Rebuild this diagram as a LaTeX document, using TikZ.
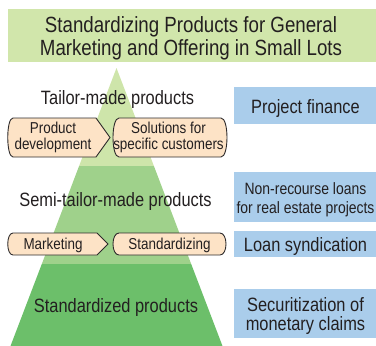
\documentclass[tikz,border=0pt]{standalone}
\usepackage{fontspec}
\setmainfont{Liberation Sans}[FakeStretch=0.85]
\definecolor{titlegreen}{HTML}{D1E6AB}
\definecolor{pyrtop}{HTML}{CEE5AA}
\definecolor{pyrmid}{HTML}{9FD18B}
\definecolor{pyrbot}{HTML}{6CBF6A}
\definecolor{bluebox}{HTML}{AACDEB}
\definecolor{peach}{HTML}{FDE3C6}
\definecolor{ink}{HTML}{231F20}
\definecolor{edge}{HTML}{2E2B2C}
\begin{document}
\begin{tikzpicture}[x=1pt,y=-1pt,
  txt/.style={inner sep=0pt,text=ink,align=center},
  big/.style={txt,font=\fontsize{19.3}{19}\selectfont},
  mid/.style={txt,font=\fontsize{16.4}{19}\selectfont},
  small/.style={txt,font=\fontsize{15.8}{16}\selectfont},
  titletxt/.style={txt,font=\fontsize{22}{23}\selectfont},
  panel/.style={fill=bluebox,draw=none},
  stepshape/.style={fill=peach,draw=edge,line width=0.9pt,line join=miter}
]
\useasboundingbox (0,0) rectangle (376,346);
% title box
\fill[titlegreen] (8,9) rectangle (376,62);
\node[titletxt] (title) at (191,38) {Standardizing Products for General\\Marketing and Offering in Small Lots};
% pyramid
\coordinate (apex) at (116.5,68);
\fill[pyrtop] (apex) -- (153.9,166) -- (79.1,166) -- cycle;
\fill[pyrmid] (79.1,166) -- (153.9,166) -- (191.2,264) -- (41.8,264) -- cycle;
\fill[pyrbot] (41.8,264) -- (191.2,264) -- (222.5,346) -- (10.5,346) -- cycle;
% blue panels
\fill[panel] (234,87) rectangle (376,124);
\fill[panel] (234,172) rectangle (376,222);
\fill[panel] (234,231) rectangle (376,257);
\fill[panel] (234,289) rectangle (376,338);
% peach step shapes
\draw[stepshape] (13,118) -- (96,118) -- (110,137.5) -- (96,157) -- (13,157)
  .. controls (6,157) and (6,118) .. (13,118) -- cycle;
\draw[stepshape] (119,118) -- (221,118) .. controls (229,118) and (229,157) .. (221,157)
  -- (119,157) .. controls (111,157) and (111,118) .. (119,118) -- cycle;
\draw[stepshape] (13,233) -- (97,233) -- (108,244) -- (97,255) -- (13,255)
  .. controls (6,255) and (6,233) .. (13,233) -- cycle;
\draw[stepshape] (119,233) -- (220,233) .. controls (228,233) and (228,255) .. (220,255)
  -- (119,255) .. controls (111,255) and (111,233) .. (119,233) -- cycle;
% texts
\node[big,anchor=base] (tailor) at (117.5,104.5) {Tailor-made products};
\node[big,anchor=base] (semi) at (115.5,206) {Semi-tailor-made products};
\node[big,anchor=base] (std) at (116,312.5) {Standardized products};
\node[big,anchor=base] (pf) at (305.5,113.3) {Project finance};
\node[mid] (nonrec) at (305.5,199.4) {Non-recourse loans\\for real estate projects};
\node[big,anchor=base] (loan) at (305.5,251) {Loan syndication};
\node[big] (secur) at (305.5,316) {Securitization of\\monetary claims};
\node[small] (proddev) at (53,137) {Product\\development};
\node[small] (solut) at (168.5,137) {Solutions for\\specific customers};
\node[small,anchor=base] (mkt) at (53,249) {Marketing};
\node[small,anchor=base] (stdz) at (169.5,249) {Standardizing};
\end{tikzpicture}
\end{document}
